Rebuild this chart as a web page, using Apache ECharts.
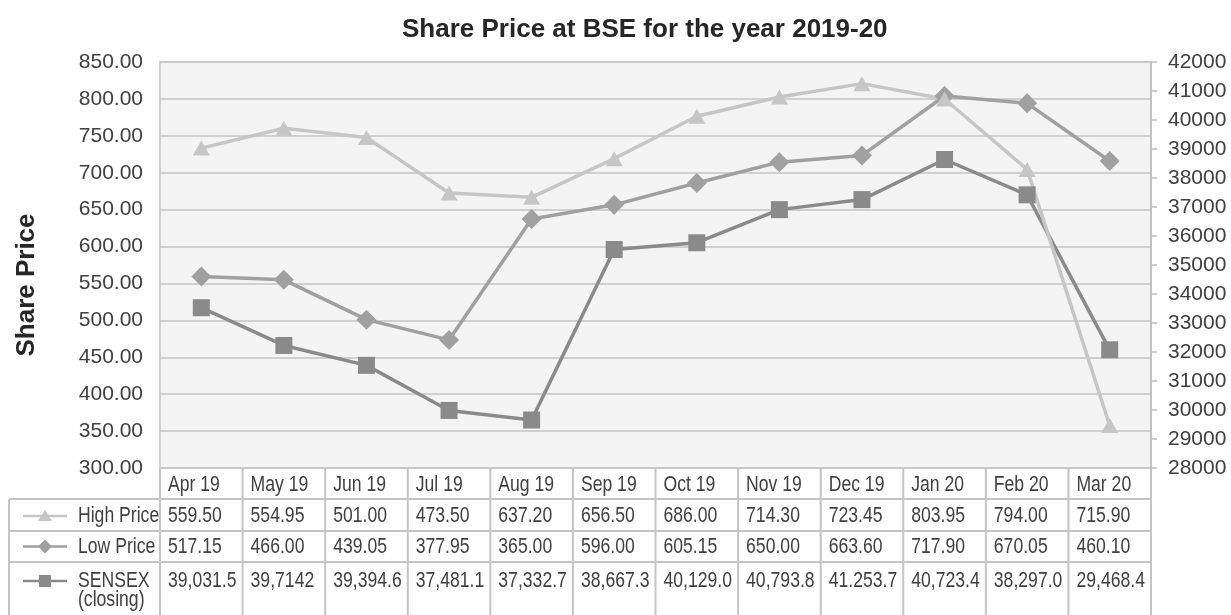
<!DOCTYPE html>
<html>
<head>
<meta charset="utf-8">
<script src="https://cdn.jsdelivr.net/npm/echarts@6/dist/echarts.min.js"></script>
<style>
html, body { margin: 0; padding: 0; background: #fff; }
#chart { width: 1231px; height: 615px; }
</style>
</head>
<body>
<div id="chart"></div>
<script>
// data
var months = ['Apr 19', 'May 19', 'Jun 19', 'Jul 19', 'Aug 19', 'Sep 19', 'Oct 19', 'Nov 19', 'Dec 19', 'Jan 20', 'Feb 20', 'Mar 20'];
var highPrice = [559.50, 554.95, 501.00, 473.50, 637.20, 656.50, 686.00, 714.30, 723.45, 803.95, 794.00, 715.90];
var lowPrice = [517.15, 466.00, 439.05, 377.95, 365.00, 596.00, 605.15, 650.00, 663.60, 717.90, 670.05, 460.10];
var sensex = [39031.5, 39714.2, 39394.6, 37481.1, 37332.7, 38667.3, 40129.0, 40793.8, 41253.7, 40723.4, 38297.0, 29468.4];
// as printed in the table
var sensexText = ['39,031.5', '39,7142', '39,394.6', '37,481.1', '37,332.7', '38,667.3', '40,129.0', '40,793.8', '41.253.7', '40,723.4', '38,297.0', '29,468.4'];

var FONT = '"Liberation Sans", Arial, sans-serif';
var TXT = '#404040';
var GRID_LINE = '#c4c4c4';
var C_LIGHT = '#c6c6c6', C_MID = '#a0a0a0', C_DARK = '#8a8a8a';

var chart = echarts.init(document.getElementById('chart'));

var option = {
    animation: false,
    title: {
        text: 'Share Price at BSE for the year 2019-20',
        left: 397,
        top: 12,
        textStyle: { fontFamily: FONT, fontSize: 26, fontWeight: 'bold', color: '#262626' }
    },
    grid: {
        left: 160,
        right: 80,
        top: 62,
        bottom: 147,
        show: true,
        backgroundColor: '#f4f4f4',
        borderColor: '#d2d2d2',
        borderWidth: 2
    },
    xAxis: {
        type: 'category',
        data: months,
        boundaryGap: true,
        axisLine: { show: false },
        axisTick: { show: false },
        axisLabel: { show: false },
        splitLine: { show: false }
    },
    yAxis: [
        {
            type: 'value',
            min: 300,
            max: 850,
            interval: 50,
            axisLine: { show: false },
            axisTick: { show: false },
            axisLabel: {
                margin: 17,
                fontFamily: FONT,
                fontSize: 21,
                color: TXT,
                formatter: function (v) { return v.toFixed(2); }
            },
            splitLine: { lineStyle: { color: GRID_LINE, width: 1.5 } }
        },
        {
            type: 'value',
            position: 'right',
            min: 28000,
            max: 42000,
            interval: 1000,
            axisLine: { show: true, lineStyle: { color: '#bdbdbd', width: 1.5 } },
            axisTick: { show: true, length: 6, lineStyle: { color: '#bdbdbd', width: 1.5 } },
            axisLabel: {
                margin: 17,
                fontFamily: FONT,
                fontSize: 21,
                color: TXT,
                formatter: function (v) { return String(v); }
            },
            splitLine: { show: false }
        }
    ],
    series: [
        {
            name: 'High Price',
            type: 'line',
            yAxisIndex: 0,
            data: highPrice,
            symbol: 'diamond',
            symbolSize: 20,
            lineStyle: { width: 3.5, color: C_MID },
            itemStyle: { color: C_MID }
        },
        {
            name: 'Low Price',
            type: 'line',
            yAxisIndex: 0,
            data: lowPrice,
            symbol: 'rect',
            symbolSize: 17,
            lineStyle: { width: 3.5, color: C_DARK },
            itemStyle: { color: C_DARK }
        },
        {
            name: 'SENSEX (closing)',
            type: 'line',
            yAxisIndex: 1,
            data: sensex,
            symbol: 'triangle',
            symbolSize: [17, 15],
            lineStyle: { width: 3.5, color: C_LIGHT },
            itemStyle: { color: C_LIGHT }
        }
    ]
};

chart.setOption(option);

// data table below the plot, placed from the category axis
var c0 = chart.convertToPixel({ xAxisIndex: 0 }, 0);
var c1 = chart.convertToPixel({ xAxisIndex: 0 }, 1);
var band = c1 - c0;
var tableLeft = c0 - band / 2;
var tableRight = tableLeft + band * months.length;
var yTop = chart.convertToPixel({ yAxisIndex: 0 }, 300);
var rowY = [yTop, yTop + 31, yTop + 63, yTop + 94];
var yEnd = 615;
var keyLeft = 9;

var els = [];
function line(x1, y1, x2, y2) {
    els.push({ type: 'line', silent: true, shape: { x1: x1, y1: y1, x2: x2, y2: y2 },
        style: { stroke: GRID_LINE, lineWidth: 2 } });
}
function cellText(str, x, y) {
    els.push({ type: 'text', silent: true, x: x, y: y, scaleX: 0.8,
        style: { text: str, fontFamily: FONT, fontSize: 22, fill: TXT,
            align: 'left', verticalAlign: 'middle', textAlign: 'left', textVerticalAlign: 'middle' } });
}

// table rules
for (var i = 0; i <= months.length; i++) {
    var x = tableLeft + band * i;
    line(x, yTop, x, yEnd);
}
line(keyLeft, rowY[1], keyLeft, yEnd);
for (var r = 1; r < rowY.length; r++) {
    line(keyLeft, rowY[r], tableRight, rowY[r]);
}

// cells
var valueRows = [
    highPrice.map(function (v) { return v.toFixed(2); }),
    lowPrice.map(function (v) { return v.toFixed(2); }),
    sensexText
];
var rowMid = [(rowY[0] + rowY[1]) / 2 + 1, (rowY[1] + rowY[2]) / 2 + 1, (rowY[2] + rowY[3]) / 2, rowY[3] + 19];
for (i = 0; i < months.length; i++) {
    var cx = tableLeft + band * i + 8;
    cellText(months[i], cx, rowMid[0]);
    for (r = 0; r < 3; r++) {
        cellText(valueRows[r][i], cx, rowMid[r + 1]);
    }
}

// row headers with legend keys
cellText('High Price', 78, rowMid[1]);
cellText('Low Price', 78, rowMid[2]);
cellText('SENSEX', 78, rowMid[3]);
cellText('(closing)', 78, rowMid[3] + 19);

var keyCols = [C_LIGHT, C_MID, C_DARK];
for (r = 0; r < 3; r++) {
    var ky = rowMid[r + 1];
    els.push({ type: 'line', silent: true, shape: { x1: 23, y1: ky, x2: 67, y2: ky },
        style: { stroke: keyCols[r], lineWidth: 2.5 } });
}
var kx = 45;
els.push({ type: 'polygon', silent: true,
    shape: { points: [[kx, rowMid[1] - 6], [kx + 7, rowMid[1] + 5], [kx - 7, rowMid[1] + 5]] },
    style: { fill: C_LIGHT } });
els.push({ type: 'polygon', silent: true,
    shape: { points: [[kx, rowMid[2] - 7], [kx + 7, rowMid[2]], [kx, rowMid[2] + 7], [kx - 7, rowMid[2]]] },
    style: { fill: C_MID } });
els.push({ type: 'rect', silent: true,
    shape: { x: kx - 6, y: rowMid[3] - 6, width: 12, height: 12 },
    style: { fill: C_DARK } });

// y axis title
els.push({ type: 'text', silent: true, x: 27, y: 285, rotation: Math.PI / 2,
    style: { text: 'Share Price', fontFamily: FONT, fontSize: 26, fontWeight: 'bold', fill: '#262626',
        align: 'center', verticalAlign: 'middle', textAlign: 'center', textVerticalAlign: 'middle' } });

chart.setOption({ graphic: els });
</script>
</body>
</html>
